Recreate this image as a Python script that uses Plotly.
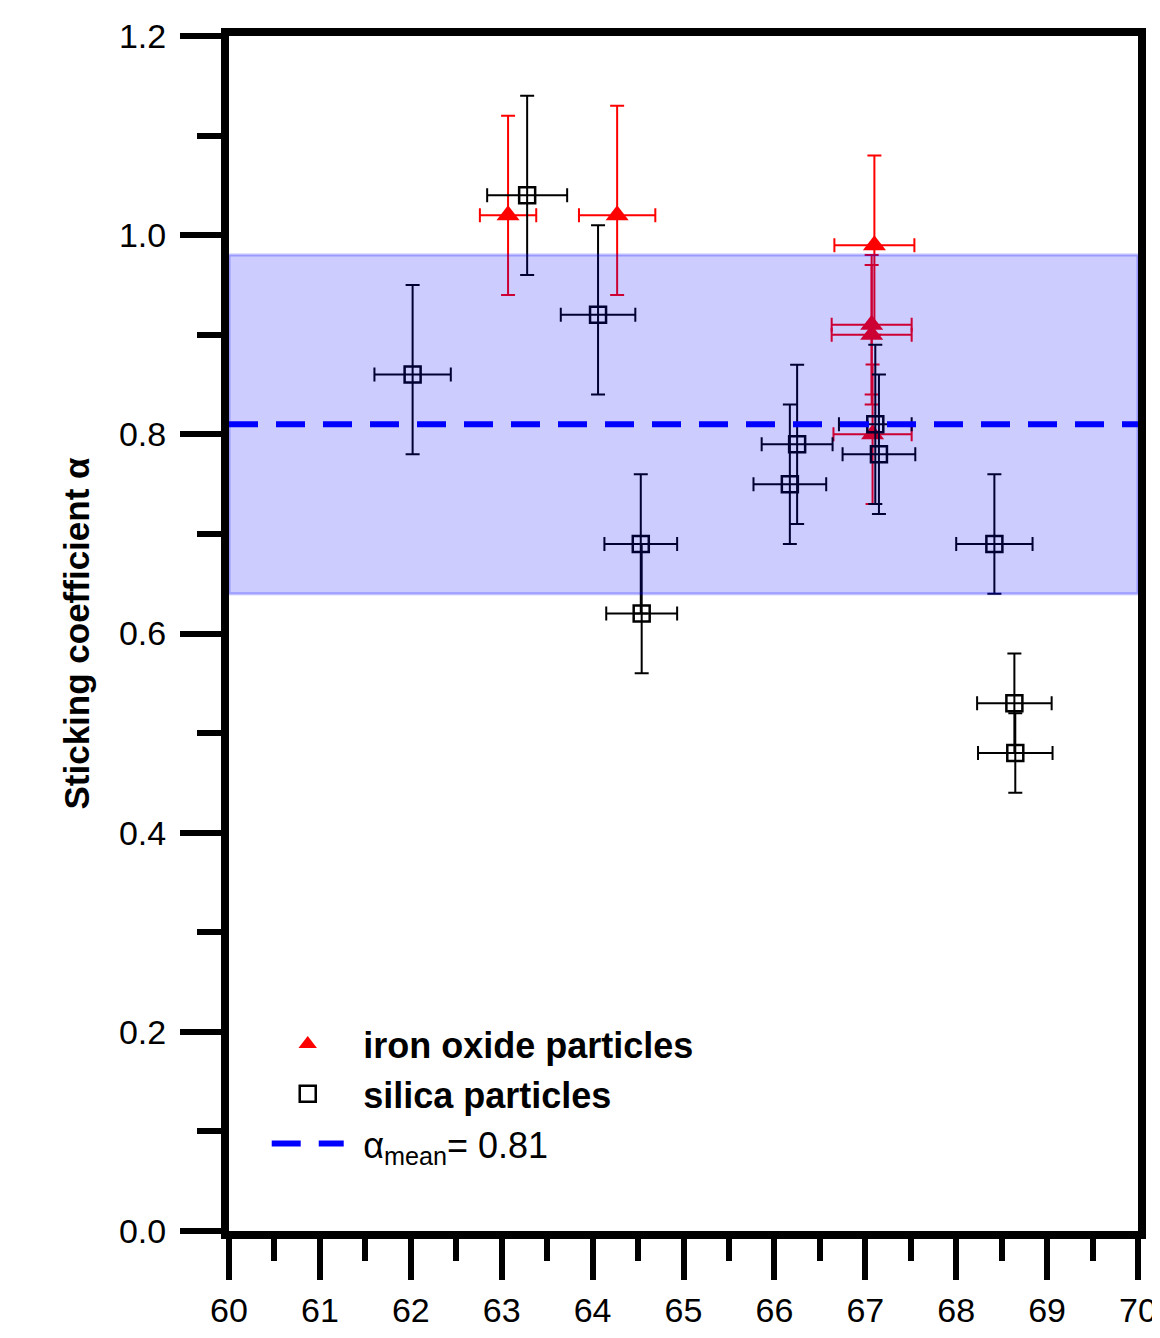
import plotly.graph_objects as go

# ---- data ----
iron_x = [63.07, 64.27, 67.10, 67.07, 67.07, 67.08]
iron_y = [1.02, 1.02, 0.99, 0.91, 0.90, 0.80]
iron_yerr_plus = [0.10, 0.11, 0.09, 0.07, 0.07, 0.07]
iron_yerr_minus = [0.08, 0.08, 0.09, 0.07, 0.07, 0.07]
iron_xerr = [0.31, 0.42, 0.44, 0.44, 0.44, 0.43]

silica_x = [62.02, 63.28, 64.06, 64.53, 64.54, 66.25, 66.17, 67.11, 67.15, 68.42, 68.64, 68.65]
silica_y = [0.86, 1.04, 0.92, 0.69, 0.62, 0.79, 0.75, 0.81, 0.78, 0.69, 0.53, 0.48]
silica_yerr_plus = [0.09, 0.10, 0.09, 0.07, 0.07, 0.08, 0.08, 0.08, 0.08, 0.07, 0.05, 0.04]
silica_yerr_minus = [0.08, 0.08, 0.08, 0.07, 0.06, 0.08, 0.06, 0.08, 0.06, 0.05, 0.05, 0.04]
silica_xerr = [0.42, 0.44, 0.41, 0.40, 0.39, 0.39, 0.40, 0.40, 0.40, 0.42, 0.41, 0.41]

alpha_mean = 0.81
band_low, band_high = 0.64, 0.98
x_range = [60, 70]
y_range = [0, 1.2]
x_ticks = list(range(60, 71))
y_ticks = [0.0, 0.2, 0.4, 0.6, 0.8, 1.0, 1.2]
y_ticklabels = ["0.0", "0.2", "0.4", "0.6", "0.8", "1.0", "1.2"]

FONT = "Liberation Sans, Arial, sans-serif"
GAP = "\u2009\u2009"

fig = go.Figure()

fig.add_trace(go.Scatter(
    x=iron_x, y=iron_y, mode="markers", name=GAP + "<b>iron oxide particles</b>",
    legendgroup="a",
    marker=dict(symbol="triangle-up", size=20, color="#ff0000", line=dict(width=0)),
    error_y=dict(type="data", array=iron_yerr_plus, arrayminus=iron_yerr_minus,
                 color="#ff0000", thickness=2, width=7),
    error_x=dict(type="data", array=iron_xerr, color="#ff0000", thickness=2, width=7),
))

fig.add_trace(go.Scatter(
    x=silica_x, y=silica_y, mode="markers", name=GAP + "<b>silica particles</b>",
    legendgroup="b",
    marker=dict(symbol="square-open", size=16, color="#000000", line=dict(width=2.5, color="#000000")),
    error_y=dict(type="data", array=silica_yerr_plus, arrayminus=silica_yerr_minus,
                 color="#000000", thickness=2, width=7),
    error_x=dict(type="data", array=silica_xerr, color="#000000", thickness=2, width=7),
))

fig.add_trace(go.Scatter(
    x=x_range, y=[alpha_mean, alpha_mean], mode="lines",
    name=GAP + "\u03b1<sub>mean</sub>= 0.81", legendgroup="c",
    line=dict(color="#0000ff", width=6, dash="29px,18px"),
))

fig.add_shape(type="rect", xref="x", yref="y", x0=x_range[0], x1=x_range[1],
              y0=band_low, y1=band_high, layer="above",
              fillcolor="rgba(0,0,255,0.2)", line=dict(color="rgba(0,0,255,0.25)", width=3))

fig.update_layout(
    width=1160, height=1338,
    margin=dict(l=221, r=30, t=28, b=115, autoexpand=False),
    paper_bgcolor="white", plot_bgcolor="white",
    font=dict(family=FONT, color="black", size=34),
    showlegend=True,
    legend=dict(x=0.0415, y=0.1146, xanchor="left", yanchor="middle",
                bgcolor="rgba(0,0,0,0)", font=dict(size=36, family=FONT),
                itemwidth=72, tracegroupgap=5, traceorder="normal"),
)

fig.update_xaxes(
    range=x_range, tickvals=x_ticks, ticktext=[str(t) for t in x_ticks],
    showgrid=False, zeroline=False, showline=True, linewidth=8, linecolor="black",
    mirror=True, ticks="outside", ticklen=41, tickwidth=6, tickcolor="black",
    tickfont=dict(size=34, family=FONT), ticklabelstandoff=1, automargin=False,
    minor=dict(dtick=0.5, ticks="outside", ticklen=22, tickwidth=6, tickcolor="black", showgrid=False),
)
fig.update_yaxes(
    range=y_range, tickvals=y_ticks, ticktext=y_ticklabels,
    showgrid=False, zeroline=False, showline=True, linewidth=8, linecolor="black",
    mirror=True, ticks="outside", ticklen=41, tickwidth=6, tickcolor="black",
    tickfont=dict(size=34, family=FONT), ticklabelstandoff=7, automargin=False,
    minor=dict(dtick=0.1, ticks="outside", ticklen=24, tickwidth=6, tickcolor="black", showgrid=False),
    title=dict(text="<b>Sticking coefficient \u03b1</b>", font=dict(size=35, family=FONT), standoff=22),
)

fig.write_html("out.html")
